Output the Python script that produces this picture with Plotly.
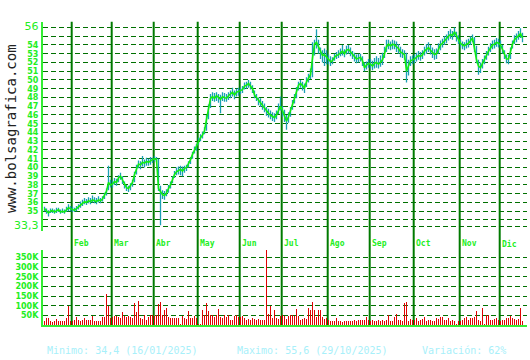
import pandas as pd
import plotly.graph_objects as go

# ---------------- data ----------------
close = [
    35.3, 35.0, 34.8, 35.0, 35.1, 34.9, 35.1, 35.2, 34.9, 35.0, 34.9, 35.1, 35.4, 35.3,
    35.2, 35.1, 35.3, 35.5, 35.8, 35.9, 36.1, 36.0, 36.2, 36.1, 36.3, 36.2, 36.1, 36.3, 36.2, 36.4, 36.8, 37.3, 38.3, 38.0,
    38.1, 38.4, 38.3, 38.8, 39.0, 38.5, 38.0, 37.7, 37.6, 37.9, 38.3, 39.2, 39.9, 40.4, 40.3, 40.6, 40.5, 40.7, 40.6, 40.8, 40.9,
    41.0, 40.9, 37.6, 37.3, 36.9, 36.8, 37.1, 37.6, 38.0, 38.6, 39.2, 39.5, 39.7, 39.8, 39.6, 39.9, 40.0, 40.4, 40.9, 41.5, 42.0, 42.3,
    43.0, 43.4, 43.7, 44.2, 45.5, 46.8, 47.9, 48.1, 47.9, 48.2, 48.0, 47.8, 48.1, 48.0, 47.9, 48.2, 48.4, 48.6, 48.3, 48.6, 48.7,
    48.8, 48.9, 49.3, 49.4, 49.6, 49.3, 49.0, 48.3, 48.0, 47.6, 47.4, 47.1, 46.8, 46.4, 46.2, 46.0, 45.8, 45.7, 46.0, 46.6, 47.0,
    46.5, 45.9, 45.3, 45.8, 46.4, 47.2, 47.9, 48.6, 49.4, 49.6, 49.3, 49.1, 49.8, 50.2, 50.6, 52.5, 54.1, 54.3, 53.8, 53.1, 52.8, 52.9, 52.6,
    52.3, 52.1, 52.2, 52.6, 52.8, 52.9, 53.1, 53.3, 53.0, 53.4, 53.5, 53.2, 52.9, 52.6, 52.4, 52.5, 52.6, 52.2, 51.4, 51.7, 51.9,
    51.8, 51.6, 51.9, 52.0, 51.8, 52.1, 52.3, 53.0, 53.8, 54.1, 53.9, 54.1, 54.0, 53.8, 53.6, 53.2, 53.0, 52.9, 51.0, 51.6, 52.2, 52.3,
    52.4, 52.6, 52.8, 52.7, 52.9, 53.3, 53.5, 53.7, 53.4, 53.1, 52.9, 53.0, 53.6, 54.0, 54.2, 54.5, 54.7, 55.0, 55.2, 55.1, 55.5, 55.0, 54.6,
    54.2, 54.0, 53.9, 54.1, 54.2, 54.5, 54.8, 53.6, 52.3, 51.6, 51.4, 51.9, 52.3, 52.8, 53.3, 53.7, 54.0, 54.1, 54.3, 54.2,
    54.0, 53.5, 52.9, 52.4, 52.4, 53.3, 54.1, 54.6, 54.8, 55.1, 55.3, 54.8,
]
high = [
    35.5, 35.3, 35.1, 35.3, 35.3, 35.2, 35.4, 35.4, 35.2, 35.3, 35.2, 35.5, 35.8, 35.6,
    35.5, 35.4, 35.6, 35.8, 36.1, 36.3, 36.5, 36.4, 36.6, 36.5, 36.8, 36.6, 36.5, 36.7, 36.5, 36.7, 37.1, 37.6, 40.2, 38.6,
    38.5, 38.8, 38.7, 39.1, 39.4, 39.0, 38.4, 38.0, 37.9, 38.2, 38.6, 39.5, 40.3, 40.8, 40.7, 41.3, 40.9, 41.1, 41.0, 41.2, 41.1,
    41.3, 41.2, 41.0, 37.9, 37.4, 37.3, 37.5, 38.0, 38.4, 39.0, 39.6, 40.0, 40.1, 40.2, 40.1, 40.2, 40.3, 40.7, 41.2, 41.8, 42.4, 42.7,
    43.4, 43.8, 44.1, 44.6, 46.0, 47.2, 48.4, 48.6, 48.5, 48.6, 48.4, 48.3, 48.6, 48.5, 48.4, 48.6, 48.8, 49.1, 48.8, 49.0, 49.1,
    49.1, 49.3, 49.7, 49.8, 50.0, 49.8, 49.4, 48.8, 48.4, 48.0, 47.9, 47.6, 47.3, 46.9, 46.7, 46.5, 46.3, 46.2, 46.5, 47.3, 48.1,
    47.0, 46.6, 46.0, 46.3, 46.9, 47.7, 48.4, 49.2, 49.8, 50.0, 49.8, 49.6, 50.3, 50.7, 51.3, 54.3, 54.6, 55.8, 54.6, 53.7, 53.4, 53.6, 53.4,
    52.9, 52.7, 52.6, 53.0, 53.2, 53.4, 53.6, 54.0, 53.5, 53.9, 54.0, 53.7, 53.3, 53.1, 52.9, 53.0, 53.0, 52.7, 52.0, 52.1, 52.4,
    52.4, 52.2, 52.5, 52.7, 52.5, 52.8, 53.1, 53.8, 54.6, 54.6, 54.4, 54.6, 54.5, 54.4, 54.1, 53.8, 53.5, 53.4, 53.1, 52.3, 52.7, 52.8,
    52.9, 53.1, 53.3, 53.2, 53.4, 53.8, 54.1, 54.3, 54.0, 53.7, 53.5, 53.6, 54.2, 54.5, 54.7, 55.0, 55.2, 55.6, 55.8, 55.6, 56.0, 55.5, 55.1,
    54.6, 54.4, 54.3, 54.6, 54.7, 55.0, 55.2, 54.9, 53.9, 52.3, 52.0, 52.4, 52.8, 53.3, 53.8, 54.2, 54.5, 54.6, 54.8, 54.7,
    54.5, 54.0, 53.4, 52.9, 52.9, 53.7, 54.5, 55.1, 55.3, 55.6, 55.9, 55.4,
]
low = [
    35.0, 34.7, 34.4, 34.8, 34.8, 34.7, 34.8, 34.9, 34.7, 34.8, 34.7, 34.9, 35.0, 35.0,
    34.9, 34.9, 35.0, 35.2, 35.4, 35.6, 35.8, 35.7, 35.9, 35.8, 36.0, 35.9, 35.8, 36.0, 35.9, 36.1, 36.4, 36.8, 37.4, 37.7,
    37.7, 38.0, 37.9, 38.3, 38.6, 38.1, 37.6, 37.3, 37.2, 37.4, 37.8, 38.3, 39.2, 39.9, 39.8, 40.1, 40.0, 40.2, 40.2, 40.3, 40.5,
    40.7, 40.6, 37.3, 33.4, 36.4, 36.3, 36.7, 37.1, 37.6, 38.2, 38.8, 39.1, 39.2, 39.1, 39.0, 39.4, 39.6, 40.0, 40.4, 41.0, 41.6, 41.9,
    42.6, 43.0, 43.3, 43.8, 44.2, 45.5, 46.8, 47.6, 47.5, 47.6, 47.4, 46.2, 47.6, 47.5, 47.5, 47.7, 47.9, 48.1, 47.8, 48.1, 48.2,
    48.4, 48.5, 48.9, 49.0, 49.1, 48.9, 48.5, 47.9, 47.6, 47.1, 46.9, 46.6, 46.3, 45.9, 45.7, 45.5, 45.3, 45.2, 45.5, 46.1, 46.5,
    45.8, 45.2, 44.3, 45.1, 45.8, 46.6, 47.3, 47.9, 48.8, 49.1, 48.8, 48.5, 49.2, 49.7, 50.1, 50.3, 52.8, 53.6, 53.0, 52.4, 52.0, 51.6, 51.8,
    51.8, 51.6, 51.8, 52.2, 52.4, 52.5, 52.7, 52.8, 52.6, 52.9, 53.0, 52.7, 52.4, 52.1, 51.9, 52.0, 52.1, 51.6, 51.0, 51.2, 51.4,
    51.3, 51.1, 51.3, 51.4, 51.3, 51.5, 51.7, 52.5, 53.2, 53.5, 53.4, 53.5, 53.5, 53.2, 53.0, 52.6, 52.5, 52.3, 49.7, 50.5, 51.6, 51.8,
    51.9, 52.1, 52.3, 52.2, 52.4, 52.8, 53.0, 53.2, 52.9, 52.5, 52.3, 52.4, 53.0, 53.4, 53.7, 54.0, 54.2, 54.5, 54.7, 54.6, 54.9, 54.4, 54.1,
    53.7, 53.5, 53.4, 53.6, 53.7, 54.0, 54.3, 53.2, 51.9, 50.6, 50.8, 51.3, 51.8, 52.3, 52.8, 53.2, 53.5, 53.6, 53.8, 53.7,
    53.6, 53.0, 52.4, 51.9, 51.8, 52.4, 53.6, 54.1, 54.3, 54.6, 54.8, 54.3,
]
volume_k = [
    24, 38, 38, 24, 16, 24, 33, 24, 24, 24, 21, 38, 98, 25,
    24, 30, 43, 30, 24, 30, 38, 30, 30, 30, 50, 24, 24, 24, 24, 43, 43, 163, 98, 40,
    43, 50, 50, 43, 38, 67, 50, 43, 50, 43, 38, 115, 67, 128, 38, 33, 55, 30, 43, 55, 55,
    50, 55, 110, 118, 55, 81, 90, 43, 36, 36, 36, 36, 36, 8, 50, 36, 33, 75, 36, 36, 50, 40,
    5, 5, 81, 55, 115, 72, 55, 55, 43, 55, 86, 43, 36, 55, 43, 55, 30, 30, 50, 55, 45,
    43, 50, 38, 30, 33, 30, 38, 33, 30, 33, 30, 30, 30, 420, 60, 100, 38, 81, 38, 33, 50,
    55, 50, 33, 50, 55, 55, 50, 86, 50, 30, 33, 38, 33, 90, 81, 120, 81, 43, 81, 81, 43, 33, 36,
    30, 24, 24, 24, 38, 24, 21, 16, 21, 24, 21, 24, 24, 30, 24, 30, 30, 30, 30, 43, 30,
    24, 30, 24, 24, 30, 21, 30, 24, 30, 53, 24, 21, 43, 60, 30, 30, 21, 115, 122, 24, 33, 30,
    30, 38, 24, 30, 33, 43, 24, 30, 30, 24, 24, 38, 33, 43, 43, 30, 30, 38, 24, 30, 24, 5, 21,
    24, 30, 38, 43, 30, 38, 38, 43, 72, 30, 24, 90, 5, 55, 55, 30, 30, 33, 38, 30,
    21, 30, 30, 38, 38, 50, 38, 33, 30, 33, 90, 24,
]
month_names = ["Ene", "Feb", "Mar", "Abr", "May", "Jun", "Jul", "Ago", "Sep", "Oct", "Nov", "Dic"]
price_ticks = [33.3] + list(range(34, 57))
vol_ticks = [50, 100, 150, 200, 250, 300, 350]
site_text = "www.bolsagrafica.com"
footer = ["Minimo: 34,4 (16/01/2025)", "Maximo: 55,6 (29/10/2025)", "Variación: 62%"]

# ---------------- dates / positions ----------------
dates = pd.bdate_range("2025-01-14", "2025-12-16")
dates = dates[dates != pd.Timestamp("2025-05-01")]
n = len(dates)
assert n == len(close) == len(high) == len(low) == len(volume_k)
idx = list(range(n))
month_starts = [i for i in range(1, n) if dates[i].month != dates[i - 1].month]

W, H = 530, 360
def px(y):  # pixel row -> paper fraction
    return 1 - y / H

X_DOM = [43 / W, 527 / W]
P_DOM = [px(231), px(20)]
V_DOM = [px(326), px(250)]
unit = (226 - 25.7) / (56 - 33.3)
p_range = [33.3 - (231 - 226) / unit, 56 + (25.7 - 20) / unit]
v_range = [0, (326 - 250) / 9.78 * 50]
x_range = [-0.75, n + 1.25]   # exactly 2 px per trading day

GRID = "#007000"
MONTH = "#007a00"
AXIS = "#33ee33"
LABEL = "#22ee22"
MONO = "DejaVu Sans Mono"

fig = go.Figure()

# high-low bars
hx, hy = [], []
for i, h, l in zip(idx, high, low):
    hx += [i, i, None]
    hy += [l, h, None]
fig.add_trace(go.Scatter(x=hx, y=hy, mode="lines", line=dict(color="#1a9fb4", width=1.3),
                         xaxis="x", yaxis="y", hoverinfo="skip", showlegend=False))
# close line
fig.add_trace(go.Scatter(x=idx, y=close, mode="lines", line=dict(color="#11ee11", width=1.6),
                         xaxis="x", yaxis="y", hoverinfo="skip", showlegend=False))
# volume
fig.add_trace(go.Bar(x=idx, y=volume_k, width=0.5,
                     marker=dict(color="#e00000", opacity=0.99, line=dict(width=0)),
                     xaxis="x2", yaxis="y2", hoverinfo="skip", showlegend=False))

ptext = []
for v in price_ticks:
    if v == 33.3:
        ptext.append("<span style='font-size:11px;font-weight:normal'>33,3</span>")
    elif v == 56:
        ptext.append("<span style='font-size:11px;font-weight:normal'>56</span>")
    elif v in (34, 55):
        ptext.append("")
    else:
        ptext.append(str(v))

common_x = dict(domain=X_DOM, range=x_range, showgrid=False, zeroline=False,
                showticklabels=False, ticks="", fixedrange=True)
grid_style = dict(showgrid=True, gridcolor=GRID, gridwidth=1, griddash="5px,3px", zeroline=False,
                  showline=True, linecolor=AXIS, linewidth=2, ticks="", ticklabelstandoff=1,
                  tickfont=dict(family="DejaVu Sans", size=8, color=LABEL, weight="bold"))
fig.update_layout(
    width=W, height=H, margin=dict(l=0, r=0, t=0, b=0),
    paper_bgcolor="white", plot_bgcolor="white", bargap=0,
    xaxis=dict(**common_x, anchor="y", showline=False),
    xaxis2=dict(**common_x, anchor="y2", showline=True, linecolor=AXIS, linewidth=2),
    yaxis=dict(domain=P_DOM, range=p_range, anchor="x", tickvals=price_ticks, ticktext=ptext, **grid_style),
    yaxis2=dict(domain=V_DOM, range=v_range, anchor="x2", tickvals=vol_ticks,
                ticktext=[f"{v}K" for v in vol_ticks], **grid_style),
)

shapes = []
annotations = []
for m in month_starts:
    shapes.append(dict(type="line", xref="x", yref="paper", x0=m - 0.4, x1=m - 0.4,
                       y0=V_DOM[0], y1=P_DOM[1], line=dict(color=MONTH, width=2), layer="below"))
    annotations.append(dict(x=m - 0.4, y=px(244), xref="x", yref="paper", xanchor="left",
                            yanchor="middle", text=month_names[dates[m].month - 1], showarrow=False,
                            font=dict(family=MONO, size=8, color=LABEL, weight="bold")))

annotations.append(dict(x=11.5 / W, y=px(127.5), xref="paper", yref="paper", text=site_text,
                        textangle=-90, showarrow=False, xanchor="center", yanchor="middle",
                        font=dict(family=MONO, size=14, color="#222222")))
for xpos, t in zip([45, 235, 420], footer):
    annotations.append(dict(x=xpos / W, y=px(351), xref="paper", yref="paper", text=t,
                            showarrow=False, xanchor="left", yanchor="middle",
                            font=dict(family=MONO, size=10, color="#a8f0fa")))
fig.update_layout(shapes=shapes, annotations=annotations)

fig.write_html("out.html")
